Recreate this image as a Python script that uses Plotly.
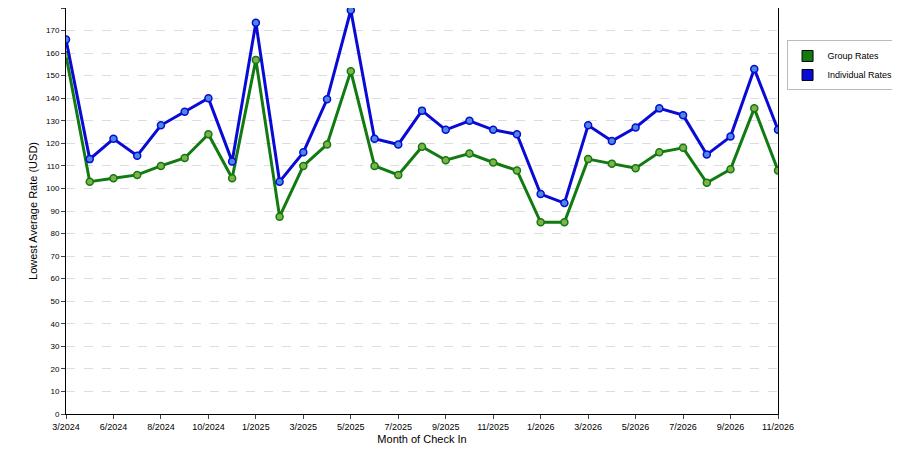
import plotly.graph_objects as go

months = ["3/2024", "5/2024", "6/2024", "7/2024", "8/2024", "9/2024", "10/2024", "12/2024",
          "1/2025", "2/2025", "3/2025", "4/2025", "5/2025", "6/2025", "7/2025", "8/2025",
          "9/2025", "10/2025", "11/2025", "12/2025", "1/2026", "2/2026", "3/2026", "4/2026",
          "5/2026", "6/2026", "7/2026", "8/2026", "9/2026", "10/2026", "11/2026"]
group_rates = [159, 103, 104.5, 106, 110, 113.5, 124, 104.5, 157, 87.5, 110, 119.5, 152, 110, 106,
               118.5, 112.5, 115.5, 111.5, 108, 85, 85, 113, 111, 109, 116, 118, 102.5, 108.5, 135.5, 108]
individual_rates = [166, 113, 122, 114.5, 128, 134, 140, 112, 173.5, 103, 116, 139.5, 179, 122, 119.5,
                    134.5, 126, 130, 126, 124, 97.5, 93.5, 128, 121, 127, 135.5, 132.5, 115, 123, 153, 126]
tick_labels = months[::2]

series = [("Group Rates", group_rates, "#117a11", "#7fb24a"),
          ("Individual Rates", individual_rates, "#0a0ad6", "#4a8ae0")]

fig = go.Figure()
for name, vals, dark, light in series:
    fig.add_trace(go.Scatter(x=months, y=vals, name=name, mode="lines+markers", showlegend=False,
                             line=dict(color=dark, width=3),
                             marker=dict(size=7, color=light, line=dict(color=dark, width=1.5))))
# legend swatches only
for name, vals, dark, light in series:
    fig.add_trace(go.Scatter(x=[None], y=[None], name=name, mode="markers",
                             marker=dict(symbol="square", size=11, color=dark,
                                         line=dict(color="black", width=1))))

fig.update_layout(
    width=900, height=450, paper_bgcolor="white", plot_bgcolor="white",
    margin=dict(l=58, r=130, t=0, b=44),
    font=dict(family="Liberation Sans, Arial", size=9, color="black"),
    legend=dict(x=1.012, y=0.92, xanchor="left", yanchor="top", bordercolor="#bbbbbb",
                borderwidth=1, font=dict(size=9)),
    xaxis=dict(type="category", tickmode="array", tickvals=tick_labels, ticktext=tick_labels,
               title=dict(text="Month of Check In", standoff=4), showgrid=False,
               showline=True, linecolor="black", mirror=True, ticks="outside", ticklen=4,
               range=[0, len(months) - 1]),
    yaxis=dict(range=[0, 180], dtick=10, title=dict(text="Lowest Average Rate (USD)", standoff=6),
               tickfont=dict(size=8), gridcolor="#dddddd", griddash="dash", showline=True,
               linecolor="black", mirror=True, ticks="outside", ticklen=4, zeroline=False),
)
fig.write_html("out.html")
